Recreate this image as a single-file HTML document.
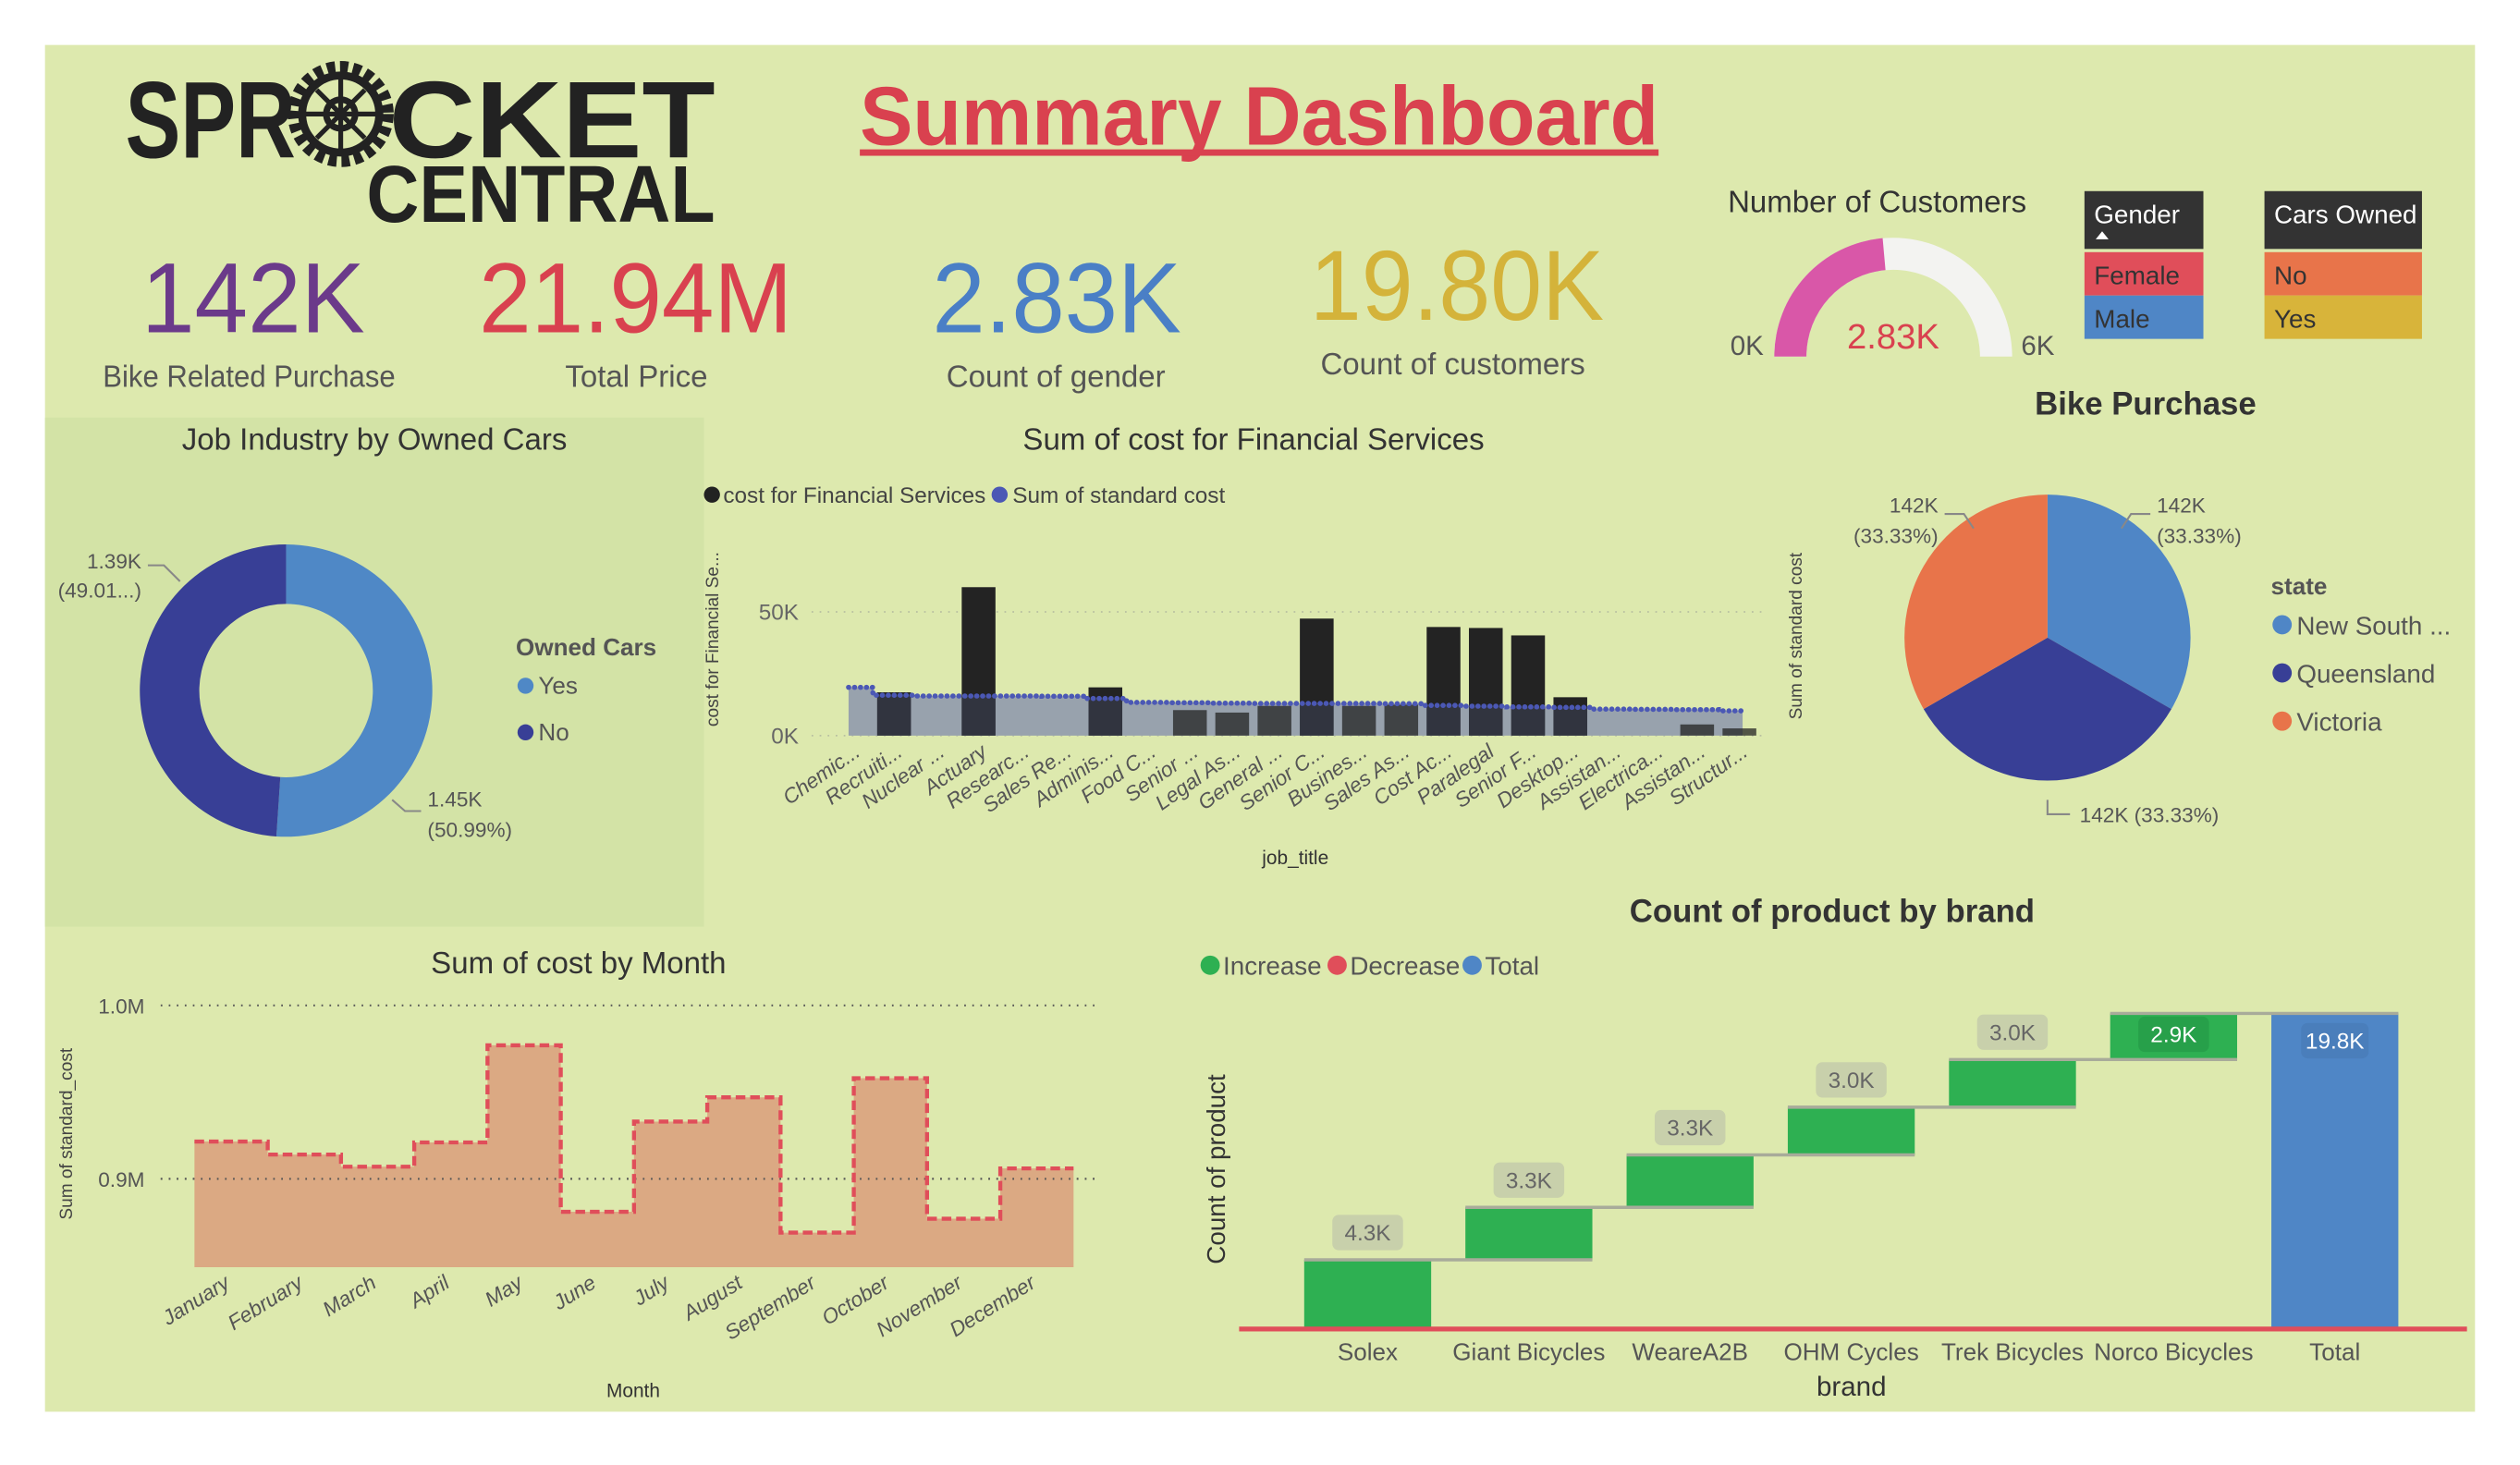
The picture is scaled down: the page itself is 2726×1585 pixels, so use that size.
<!DOCTYPE html>
<html><head><meta charset="utf-8">
<style>
html,body{margin:0;padding:0;background:#fff;overflow:hidden;}
#stage{position:absolute;left:0;top:0;width:1568px;height:907px;transform-origin:0 0;transform:scale(1.73852,1.7376);}
svg text{font-family:"Liberation Sans Narrow","Liberation Sans",sans-serif;}
</style></head>
<body>
<div id="stage">
<svg id="svg" width="1568" height="907" viewBox="0 0 1568 907" xmlns="http://www.w3.org/2000/svg">
<rect x="0" y="0" width="1568" height="907" fill="#ffffff"/>
<rect x="28" y="28" width="1512" height="851" fill="#dde9ae"/>
<rect x="28" y="260" width="410" height="317" fill="#d3e3a6"/>

<g>
<text x="78" y="98" font-size="68" font-weight="bold" fill="#222" textLength="106" lengthAdjust="spacingAndGlyphs">SPR</text>
<g transform="translate(212,71)">
<circle r="29" fill="none" stroke="#222" stroke-width="8" stroke-dasharray="5 3"/>
<circle r="24" fill="none" stroke="#222" stroke-width="5"/>
<circle r="9" fill="none" stroke="#222" stroke-width="4"/>
<path d="M0-22V22M-22 0H22M-15-15L15 15M15-15L-15 15" stroke="#222" stroke-width="3"/>
</g>
<text x="242" y="98" font-size="68" font-weight="bold" fill="#222" textLength="203" lengthAdjust="spacingAndGlyphs">CKET</text>
<text x="228" y="138" font-size="50" font-weight="bold" fill="#222" textLength="217" lengthAdjust="spacingAndGlyphs">CENTRAL</text>
</g>

<text x="535" y="90" font-size="52" font-weight="bold" fill="#d9414f" textLength="497" lengthAdjust="spacingAndGlyphs">Summary Dashboard</text>
<rect x="535" y="93" width="497" height="4" fill="#d9414f"/>

<g>
<text x="88" y="207" font-size="62" fill="#6b3a8a" textLength="139" lengthAdjust="spacingAndGlyphs">142K</text>
<text x="64" y="241" font-size="19" fill="#555" textLength="182" lengthAdjust="spacingAndGlyphs">Bike Related Purchase</text></g>
<g>
<text x="298" y="207" font-size="62" fill="#d9414f" textLength="195" lengthAdjust="spacingAndGlyphs">21.94M</text>
<text x="396" y="241" text-anchor="middle" font-size="19" fill="#555">Total Price</text></g>
<g>
<text x="580" y="207" font-size="62" fill="#4a7fc6" textLength="155" lengthAdjust="spacingAndGlyphs">2.83K</text>
<text x="657" y="241" text-anchor="middle" font-size="19" fill="#555">Count of gender</text></g>
<g>
<text x="815" y="199" font-size="62" fill="#d4b33a" textLength="183" lengthAdjust="spacingAndGlyphs">19.80K</text>
<text x="904" y="233" text-anchor="middle" font-size="19" fill="#555">Count of customers</text></g>

<g>
<text x="1168" y="132" text-anchor="middle" font-size="19" fill="#333">Number of Customers</text>
<path d="M1104 222 A74 74 0 0 1 1252 222 L1232 222 A54 54 0 0 0 1124 222 Z" fill="#f3f3f1"/>
<path id="gauge-fill" fill="#d957a8"/>
<text x="1178" y="217" text-anchor="middle" font-size="22" fill="#d9414f">2.83K</text>
<text x="1087" y="221" text-anchor="middle" font-size="17" fill="#555">0K</text>
<text x="1268" y="221" text-anchor="middle" font-size="17" fill="#555">6K</text>
</g>

<g>
<rect x="1297" y="119" width="74" height="36" fill="#333"/>
<text x="1303" y="139" font-size="16" fill="#fff">Gender</text>
<path d="M1304 149 l4 -5 l4 5z" fill="#fff"/>
<rect x="1297" y="157" width="74" height="27" fill="#e04e5a"/>
<text x="1303" y="177" font-size="16" fill="#333">Female</text>
<rect x="1297" y="184" width="74" height="27" fill="#4f86c6"/>
<text x="1303" y="204" font-size="16" fill="#333">Male</text>
</g>
<g>
<rect x="1409" y="119" width="98" height="36" fill="#333"/>
<text x="1415" y="139" font-size="16" fill="#fff">Cars Owned</text>
<rect x="1409" y="157" width="98" height="27" fill="#e8744a"/>
<text x="1415" y="177" font-size="16" fill="#333">No</text>
<rect x="1409" y="184" width="98" height="27" fill="#d8b43a"/>
<text x="1415" y="204" font-size="16" fill="#333">Yes</text>
</g>

<g id="donut">
<text x="233" y="280" text-anchor="middle" font-size="19" fill="#333">Job Industry by Owned Cars</text>
</g>
<g>
<text x="321" y="408" font-size="15" font-weight="bold" fill="#555">Owned Cars</text>
<circle cx="327" cy="427" r="5" fill="#4f88c6"/><text x="335" y="432" font-size="15" fill="#555">Yes</text>
<circle cx="327" cy="456" r="5" fill="#383f96"/><text x="335" y="461" font-size="15" fill="#555">No</text>
</g>

<g id="fin">
<text x="780" y="280" text-anchor="middle" font-size="19" fill="#333">Sum of cost for Financial Services</text>
<g>
<circle cx="443" cy="308" r="5" fill="#222"/><text x="450" y="313" font-size="14" fill="#444">cost for Financial Services</text>
<circle cx="622" cy="308" r="5" fill="#4b58b5"/><text x="630" y="313" font-size="14" fill="#444">Sum of standard cost</text>
</g>
<text transform="translate(447,398) rotate(-90)" text-anchor="middle" font-size="11" fill="#444" font-family="Liberation Sans">cost for Financial Se...</text>
<text transform="translate(1121,396) rotate(-90)" text-anchor="middle" font-size="11" fill="#444" font-family="Liberation Sans">Sum of standard cost</text>
<text x="806" y="538" text-anchor="middle" font-size="12" fill="#333">job_title</text>
</g>

<g id="pie">
<text x="1335" y="258" text-anchor="middle" font-size="20" font-weight="bold" fill="#333">Bike Purchase</text>
</g>
<g>
<text x="1413" y="370" font-size="15" font-weight="bold" fill="#555">state</text>
<circle cx="1420" cy="389" r="6" fill="#4f86c6"/><text x="1429" y="395" font-size="16" fill="#555">New South ...</text>
<circle cx="1420" cy="419" r="6" fill="#383f96"/><text x="1429" y="425" font-size="16" fill="#555">Queensland</text>
<circle cx="1420" cy="449" r="6" fill="#e8744a"/><text x="1429" y="455" font-size="16" fill="#555">Victoria</text>
</g>

<g id="month">
<text x="360" y="606" text-anchor="middle" font-size="19" fill="#333">Sum of cost by Month</text>
<text transform="translate(45,706) rotate(-90)" text-anchor="middle" font-size="11" fill="#444" font-family="Liberation Sans">Sum of standard_cost</text>
<text x="394" y="870" text-anchor="middle" font-size="12" fill="#333">Month</text>
</g>

<g id="wf">
<text x="1140" y="574" text-anchor="middle" font-size="20" font-weight="bold" fill="#333">Count of product by brand</text>
<g>
<circle cx="753" cy="601" r="6" fill="#2eb052"/><text x="761" y="607" font-size="16" fill="#555">Increase</text>
<circle cx="832" cy="601" r="6" fill="#e04e5a"/><text x="840" y="607" font-size="16" fill="#555">Decrease</text>
<circle cx="916" cy="601" r="6" fill="#4f86c6"/><text x="924" y="607" font-size="16" fill="#555">Total</text>
</g>
<text transform="translate(762,728) rotate(-90)" text-anchor="middle" font-size="16" fill="#333" font-family="Liberation Sans">Count of product</text>
<text x="1152" y="869" text-anchor="middle" font-size="17" fill="#333">brand</text>
</g>
</svg>
</div>
<script>
const NS='http://www.w3.org/2000/svg';
function mk(parent,tag,attrs){const e=document.createElementNS(NS,tag);for(const k in attrs)e.setAttribute(k,attrs[k]);parent.appendChild(e);return e;}

const gaugeValue=2.83, gaugeMax=6;
const donutLabels=['Yes','No'];
const donutValues=[1.45,1.39];
const pieStates=['New South Wales','Queensland','Victoria'];
const pieValues=[142,142,142];
const jobTitles=['Chemic...','Recruiti...','Nuclear ...','Actuary','Researc...','Sales Re...','Adminis...','Food C...','Senior ...','Legal As...','General ...','Senior C...','Busines...','Sales As...','Cost Ac...','Paralegal','Senior F...','Desktop...','Assistan...','Electrica...','Assistan...','Structur...'];
const finCost=[0,17.5,0,60,0,0,19.5,0,10.3,9.3,12,47.3,12,12.5,43.9,43.5,40.5,15.5,0,0,4.5,2.9];
const stdCost=[19.5,16.3,16,16,16,15.9,15,13.4,13.3,13.1,13,13,13,12.9,12.2,11.9,11.6,11.4,10.7,10.6,10.5,10];
const finTicks=[0,50];
const months=['January','February','March','April','May','June','July','August','September','October','November','December'];
const monthCost=[0.9215,0.914,0.907,0.921,0.977,0.881,0.933,0.947,0.869,0.958,0.877,0.906];
const monthTicks=[0.9,1.0];
const monthTickLabels=['0.9M','1.0M'];
const brands=['Solex','Giant Bicycles','WeareA2B','OHM Cycles','Trek Bicycles','Norco Bicycles','Total'];
const brandIncrease=[4.3,3.3,3.3,3.0,3.0,2.9];
const brandLabels=['4.3K','3.3K','3.3K','3.0K','3.0K','2.9K','19.8K'];

(function(){
 const cx=1178,cy=222,R=74,r=54;
 const a=Math.PI*(1-gaugeValue/gaugeMax);
 const x1=cx+R*Math.cos(a),y1=cy-R*Math.sin(a),x2=cx+r*Math.cos(a),y2=cy-r*Math.sin(a);
 document.getElementById('gauge-fill').setAttribute('d',`M${cx-R} ${cy} A${R} ${R} 0 0 1 ${x1} ${y1} L${x2} ${y2} A${r} ${r} 0 0 0 ${cx-r} ${cy} Z`);
})();

(function(){
 const g=document.getElementById('donut');
 const cx=178,cy=430,R=91,r=54,cols=['#4f88c6','#383f96'];
 const tot=donutValues.reduce((a,b)=>a+b,0);let ang=0;
 donutValues.forEach((v,i)=>{
  const a0=ang,a1=ang+v/tot*2*Math.PI;ang=a1;
  const p=(rr,a)=>[cx+rr*Math.sin(a),cy-rr*Math.cos(a)];
  const [ax,ay]=p(R,a0),[bx,by]=p(R,a1),[cx1,cy1]=p(r,a1),[dx,dy]=p(r,a0);
  const lg=(a1-a0)>Math.PI?1:0;
  const s=mk(g,'path',{d:`M${ax} ${ay}A${R} ${R} 0 ${lg} 1 ${bx} ${by}L${cx1} ${cy1}A${r} ${r} 0 ${lg} 0 ${dx} ${dy}Z`,fill:cols[i]});
  
  
 });
 mk(g,'path',{d:'M244 498 L252 505 L262 505',fill:'none',stroke:'#888','stroke-width':1.2});
 mk(g,'path',{d:'M92 352 L102 352 L112 362',fill:'none',stroke:'#888','stroke-width':1.2});
 const t1=mk(g,'text',{x:266,y:502,'font-size':13,fill:'#555'});t1.textContent=donutValues[0].toFixed(2)+'K';
 const t2=mk(g,'text',{x:266,y:521,'font-size':13,fill:'#555'});t2.textContent='(50.99%)';
 const t3=mk(g,'text',{x:88,y:354,'font-size':13,fill:'#555','text-anchor':'end'});t3.textContent=donutValues[1].toFixed(2)+'K';
 const t4=mk(g,'text',{x:88,y:372,'font-size':13,fill:'#555','text-anchor':'end'});t4.textContent='(49.01...)';
})();

(function(){
 const g=document.getElementById('pie');
 const cx=1274,cy=397,R=89,cols=['#4f86c6','#383f96','#e8744a'];
 const tot=pieValues.reduce((a,b)=>a+b,0);let ang=0;
 pieValues.forEach((v,i)=>{
  const a0=ang,a1=ang+v/tot*2*Math.PI;ang=a1;
  const s=mk(g,'path',{d:`M${cx} ${cy}L${cx+R*Math.sin(a0)} ${cy-R*Math.cos(a0)}A${R} ${R} 0 ${(a1-a0)>Math.PI?1:0} 1 ${cx+R*Math.sin(a1)} ${cy-R*Math.cos(a1)}Z`,fill:cols[i]});
  
  
 });
 mk(g,'path',{d:'M1320 329 L1326 320 L1338 320',fill:'none',stroke:'#888','stroke-width':1.2});
 mk(g,'path',{d:'M1228 329 L1222 320 L1210 320',fill:'none',stroke:'#888','stroke-width':1.2});
 mk(g,'path',{d:'M1274 498 L1274 507 L1288 507',fill:'none',stroke:'#888','stroke-width':1.2});
 const L=[[1342,319,'start',pieValues[0]+'K'],[1342,338,'start','(33.33%)'],[1206,319,'end',pieValues[2]+'K'],[1206,338,'end','(33.33%)'],[1294,512,'start',pieValues[1]+'K (33.33%)']];
 L.forEach(l=>{const t=mk(g,'text',{x:l[0],y:l[1],'text-anchor':l[2],'font-size':13,fill:'#555','font-family':'Liberation Sans'});t.textContent=l[3];});
})();

(function(){
 const g=document.getElementById('fin');
 const x0=530,step=26.3,y0=458,pxPerK=77/50;
 const X=i=>x0+i*step, Y=v=>y0-v*pxPerK;
 finTicks.forEach(t=>{
  mk(g,'line',{x1:505,x2:1100,y1:Y(t),y2:Y(t),stroke:'#b8bfa0','stroke-width':1,'stroke-dasharray':'1 4'});
  const tx=mk(g,'text',{x:497,y:Y(t)+5,'text-anchor':'end','font-size':14,fill:'#666'});tx.textContent=t+'K';
 });
 let d=`M${X(0)-2} ${y0}`;
 stdCost.forEach((v,i)=>{d+=`L${X(i)-(i?step/2:2)} ${Y(v)}L${X(i)+(i<stdCost.length-1?step/2:2)} ${Y(v)}`;});
 d+=`L${X(stdCost.length-1)+2} ${y0}Z`;
 const area=mk(g,'path',{d:d,fill:'#98a2ad'});
 
 
 finCost.forEach((v,i)=>{
  if(v<=0)return;
  const b=mk(g,'rect',{x:X(i)-10.5,y:Y(v),width:21,height:v*pxPerK,fill:'#232323','fill-opacity':Y(v)<Y(stdCost[i])?1:0.75});
  
  
  if(Y(v)<Y(stdCost[i])){mk(g,'rect',{x:X(i)-10.5,y:Y(stdCost[i]),width:21,height:stdCost[i]*pxPerK,fill:'#3a3f52','fill-opacity':0.6});}
 });
 let ld='';
 stdCost.forEach((v,i)=>{ld+=(i?'L':'M')+(X(i)-(i?step/2:2))+' '+Y(v)+'L'+(X(i)+(i<stdCost.length-1?step/2:2))+' '+Y(v);});
 const line=mk(g,'path',{d:ld,fill:'none',stroke:'#4b58b5','stroke-width':3.2,'stroke-dasharray':'0.1 3.6','stroke-linecap':'round'});
 
 
 jobTitles.forEach((t,i)=>{
  const tx=mk(g,'text',{transform:`translate(${X(i)+6},${y0+12}) rotate(-35)`,'text-anchor':'end','font-size':13,fill:'#555','font-style':'italic','font-family':'Liberation Sans'});
  tx.textContent=t;
 });
})();

(function(){
 const g=document.getElementById('month');
 const x0=121,w=(668-121)/12,base=789;
 const Y=v=>734-(v-0.9)*1080;
 monthTicks.forEach((t,i)=>{
  mk(g,'line',{x1:100,x2:685,y1:Y(t),y2:Y(t),stroke:'#555','stroke-width':1.2,'stroke-dasharray':'1 4'});
  const tx=mk(g,'text',{x:90,y:Y(t)+5,'text-anchor':'end','font-size':13,fill:'#555'});tx.textContent=monthTickLabels[i];
 });
 let d=`M${x0} ${base}`,ld='';
 monthCost.forEach((v,i)=>{d+=`L${x0+i*w} ${Y(v)}L${x0+(i+1)*w} ${Y(v)}`;ld+=(i?'L':'M')+(x0+i*w)+' '+Y(v)+'L'+(x0+(i+1)*w)+' '+Y(v);});
 d+=`L${x0+12*w} ${base}Z`;
 const a=mk(g,'path',{d:d,fill:'#dba983'});
 
 
 mk(g,'line',{x1:100,x2:685,y1:Y(0.9),y2:Y(0.9),stroke:'#555','stroke-width':1.2,'stroke-dasharray':'1 4'});
 const l=mk(g,'path',{d:ld,fill:'none',stroke:'#e04e5a','stroke-width':2.5,'stroke-dasharray':'6 3'});
 
 
 months.forEach((m,i)=>{
  const tx=mk(g,'text',{transform:`translate(${x0+(i+0.5)*w},${base+12}) rotate(-32)`,'text-anchor':'end','font-size':13,fill:'#555','font-style':'italic','font-family':'Liberation Sans'});
  tx.textContent=m;
 });
})();

(function(){
 const g=document.getElementById('wf');
 const base=827,pxK=196/19.8,c0=851,step=100.3,bw=79;
 const Y=v=>base-v*pxK;
 let cum=0;
 const tops=[];
 brandIncrease.forEach((v,i)=>{
  const y1=Y(cum+v),y2=Y(cum);
  const b=mk(g,'rect',{x:c0+i*step-bw/2,y:y1,width:bw,height:y2-y1,fill:'#2eb052'});
  
  
  cum+=v;tops.push(y1);
 });
 const tb=mk(g,'rect',{x:c0+6*step-bw/2,y:Y(cum),width:bw,height:base-Y(cum),fill:'#4f86c6'});
 
 
 tops.forEach((y,i)=>{mk(g,'line',{x1:c0+i*step-bw/2,x2:c0+(i+1)*step+bw/2,y1:y,y2:y,stroke:'#a8ab9a','stroke-width':2});});
 mk(g,'rect',{x:771,y:base-1,width:764,height:3,fill:'#e04e5a'});
 brandLabels.forEach((t,i)=>{
  const cx=c0+i*step;let y,fill,col;
  if(i<5){y=tops[i]-28;fill='#c8d0ab';col='#666';}
  else if(i===5){y=tops[i]+2;fill='#27a04a';col='#fff';}
  else{y=Y(cum)+6;fill='#4a7ebb';col='#fff';}
  mk(g,'rect',{x:cx-(i===6?21:22),y:y,width:i===6?42:44,height:22,rx:4,fill:fill});
  const tx=mk(g,'text',{x:cx,y:y+16,'text-anchor':'middle','font-size':14,fill:col,'font-family':'Liberation Sans'});tx.textContent=t;
 });
 brands.forEach((b,i)=>{const tx=mk(g,'text',{x:c0+i*step,y:847,'text-anchor':'middle','font-size':15,fill:'#555'});tx.textContent=b;});
})();
</script>
</body></html>
